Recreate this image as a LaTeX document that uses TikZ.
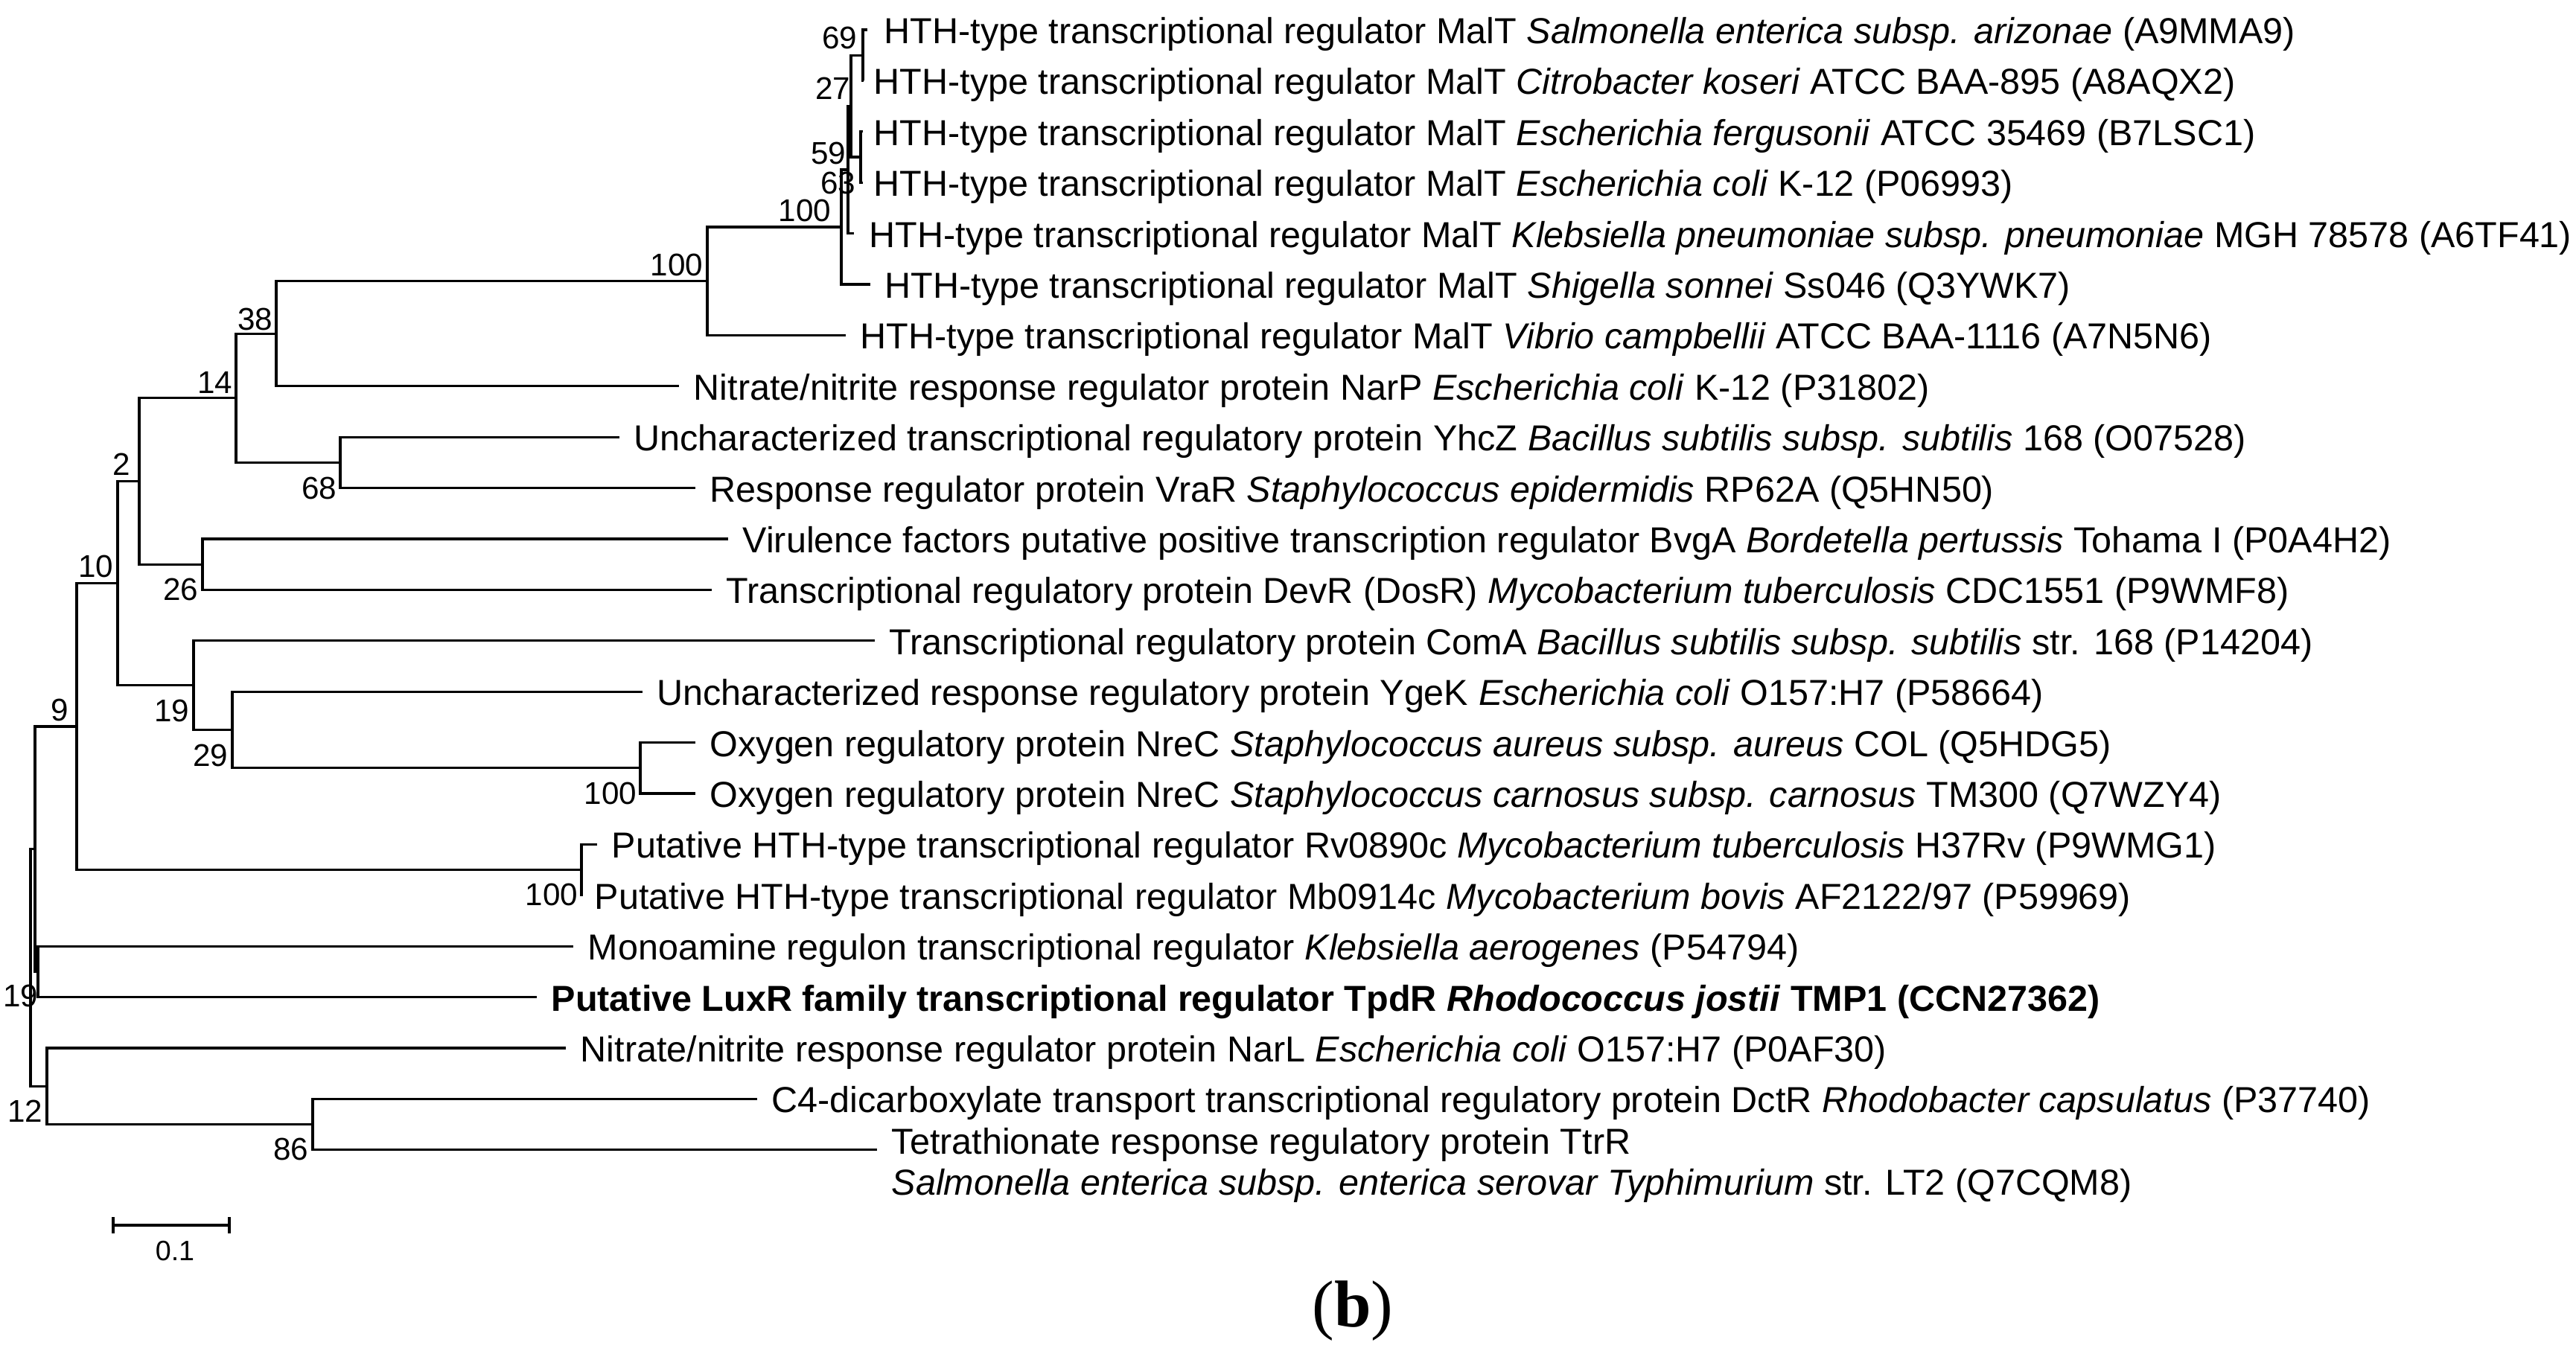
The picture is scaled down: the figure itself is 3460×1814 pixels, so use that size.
\documentclass[tikz,border=0pt]{standalone}
\usepackage{fontspec}
\setmainfont{Liberation Sans}
\newfontfamily\capfont{Liberation Serif}
\begin{document}
\begin{tikzpicture}[x=0.01cm,y=-0.01cm,
  branch/.style={line width=0.95pt, line join=miter},
  leaf/.style={anchor=base west, inner sep=0pt, font=\fontsize{13.8}{16}\selectfont},
  boot/.style={anchor=base east, inner sep=0pt, font=\fontsize{12}{14}\selectfont},
]
\useasboundingbox (0,0) rectangle (3460,1814);
% leaf tips
\coordinate (r1) at (1165,40);
\coordinate (r2) at (1160,108.4);
\coordinate (r3) at (1159,176.8);
\coordinate (r4) at (1159,245.2);
\coordinate (r5) at (1147,313.6);
\coordinate (r6) at (1169,382);
\coordinate (r7) at (1136,450.4);
\coordinate (r8) at (912,518.8);
\coordinate (r9) at (832,587.2);
\coordinate (r10) at (934,655.6);
\coordinate (r11) at (978,724);
\coordinate (r12) at (956,792.4);
\coordinate (r13) at (1175,860.8);
\coordinate (r14) at (863,929.2);
\coordinate (r15) at (934,997.6);
\coordinate (r16) at (934,1066);
\coordinate (r17) at (802,1134.4);
\coordinate (r18) at (783,1202.8);
\coordinate (r19) at (770,1271.2);
\coordinate (r20) at (721,1339.6);
\coordinate (r21) at (760,1408);
\coordinate (r22) at (1017,1476.4);
\coordinate (r23) at (1178,1544.8);
% internal nodes
\coordinate (n69) at (1159,74.2);
\coordinate (n59) at (1156,211);
\coordinate (n27) at (1143,142.6);
\coordinate (n63) at (1139,228.1);
\coordinate (n100a) at (1130,305);
\coordinate (nMV) at (950,377.7);
\coordinate (n38) at (371,448.3);
\coordinate (n68) at (457,621.4);
\coordinate (n14) at (317,534.8);
\coordinate (n26) at (272,758.2);
\coordinate (n2) at (187,646.5);
\coordinate (nNC) at (860,1031.8);
\coordinate (n29) at (312,980.5);
\coordinate (n19a) at (260,920.7);
\coordinate (n10) at (158,783.6);
\coordinate (nPut) at (781,1168.6);
\coordinate (n9) at (103,976.1);
\coordinate (n19b) at (51,1305.4);
\coordinate (nX) at (47,1140.8);
\coordinate (n86) at (420,1510.6);
\coordinate (n12) at (63,1459.3);
\coordinate (root) at (41,1300);
% branches
\draw[branch] (r1) -| (n69) |- (r2);
\draw[branch] (r3) -| (n59) |- (r4);
\draw[branch] (n69) -| (n27) |- (n59);
\draw[branch] (n27) -| (n63) |- (r5);
\draw[branch] (n63) -| (n100a) |- (r6);
\draw[branch] (n100a) -| (nMV) |- (r7);
\draw[branch] (nMV) -| (n38) |- (r8);
\draw[branch] (r9) -| (n68) |- (r10);
\draw[branch] (n38) -| (n14) |- (n68);
\draw[branch] (r11) -| (n26) |- (r12);
\draw[branch] (n14) -| (n2) |- (n26);
\draw[branch] (r15) -| (nNC) |- (r16);
\draw[branch] (r14) -| (n29) |- (nNC);
\draw[branch] (r13) -| (n19a) |- (n29);
\draw[branch] (n2) -| (n10) |- (n19a);
\draw[branch] (r17) -| (nPut) |- (r18);
\draw[branch] (n10) -| (n9) |- (nPut);
\draw[branch] (r19) -| (n19b) |- (r20);
\draw[branch] (n9) -| (nX) |- (n19b);
\draw[branch] (r22) -| (n86) |- (r23);
\draw[branch] (r21) -| (n12) |- (n86);
\draw[branch] (nX) -| (root) |- (n12);
% bootstrap values
\node[boot] (b69) at (1152,65) {69};
\node[boot] (b27) at (1143,133) {27};
\node[boot] (b59) at (1137,220) {59};
\node[boot] (b63) at (1150,260) {63};
\node[boot] (b100a) at (1117,297) {100};
\node[boot] (bMV) at (945,370) {100};
\node[boot] (b38) at (367,443) {38};
\node[boot] (b14) at (313,528) {14};
\node[boot] (b68) at (453,670) {68};
\node[boot] (b2) at (176,638) {2};
\node[boot] (b26) at (267,806) {26};
\node[boot] (b10) at (153,775) {10};
\node[boot] (b19a) at (255,969) {19};
\node[boot] (b29) at (307,1029) {29};
\node[boot] (b9) at (93,968) {9};
\node[boot] (bNC) at (856,1080) {100};
\node[boot] (bPut) at (777,1216) {100};
\node[boot] (b19b) at (52,1352) {19};
\node[boot] (b12) at (58,1507) {12};
\node[boot] (b86) at (415,1558) {86};
% leaf labels
\node[leaf] (l1) at (1187,58.5) {HTH-type transcriptional regulator MalT \textit{Salmonella enterica subsp. arizonae} (A9MMA9)};
\node[leaf] (l2) at (1173,126.9) {HTH-type transcriptional regulator MalT \textit{Citrobacter koseri} ATCC BAA-895 (A8AQX2)};
\node[leaf] (l3) at (1173,195.3) {HTH-type transcriptional regulator MalT \textit{Escherichia fergusonii} ATCC 35469 (B7LSC1)};
\node[leaf] (l4) at (1173,263.7) {HTH-type transcriptional regulator MalT \textit{Escherichia coli} K-12 (P06993)};
\node[leaf] (l5) at (1167,332.1) {HTH-type transcriptional regulator MalT \textit{Klebsiella pneumoniae subsp. pneumoniae} MGH 78578 (A6TF41)};
\node[leaf] (l6) at (1188,400.5) {HTH-type transcriptional regulator MalT \textit{Shigella sonnei} Ss046 (Q3YWK7)};
\node[leaf] (l7) at (1155,468.9) {HTH-type transcriptional regulator MalT \textit{Vibrio campbellii} ATCC BAA-1116 (A7N5N6)};
\node[leaf] (l8) at (931,537.3) {Nitrate/nitrite response regulator protein NarP \textit{Escherichia coli} K-12 (P31802)};
\node[leaf] (l9) at (851,605.7) {Uncharacterized transcriptional regulatory protein YhcZ \textit{Bacillus subtilis subsp. subtilis} 168 (O07528)};
\node[leaf] (l10) at (953,674.1) {Response regulator protein VraR \textit{Staphylococcus epidermidis} RP62A (Q5HN50)};
\node[leaf] (l11) at (997,742.5) {Virulence factors putative positive transcription regulator BvgA \textit{Bordetella pertussis} Tohama I (P0A4H2)};
\node[leaf] (l12) at (975,810.9) {Transcriptional regulatory protein DevR (DosR) \textit{Mycobacterium tuberculosis} CDC1551 (P9WMF8)};
\node[leaf] (l13) at (1194,879.3) {Transcriptional regulatory protein ComA \textit{Bacillus subtilis subsp. subtilis} str. 168 (P14204)};
\node[leaf] (l14) at (882,947.7) {Uncharacterized response regulatory protein YgeK \textit{Escherichia coli} O157:H7 (P58664)};
\node[leaf] (l15) at (953,1016.1) {Oxygen regulatory protein NreC \textit{Staphylococcus aureus subsp. aureus} COL (Q5HDG5)};
\node[leaf] (l16) at (953,1084.5) {Oxygen regulatory protein NreC \textit{Staphylococcus carnosus subsp. carnosus} TM300 (Q7WZY4)};
\node[leaf] (l17) at (821,1152.9) {Putative HTH-type transcriptional regulator Rv0890c \textit{Mycobacterium tuberculosis} H37Rv (P9WMG1)};
\node[leaf] (l18) at (798,1221.3) {Putative HTH-type transcriptional regulator Mb0914c \textit{Mycobacterium bovis} AF2122/97 (P59969)};
\node[leaf] (l19) at (789,1289.7) {Monoamine regulon transcriptional regulator \textit{Klebsiella aerogenes} (P54794)};
\node[leaf] (l20) at (740,1358.1) {\bfseries Putative LuxR family transcriptional regulator TpdR \textit{Rhodococcus jostii} TMP1 (CCN27362)};
\node[leaf] (l21) at (779,1426.5) {Nitrate/nitrite response regulator protein NarL \textit{Escherichia coli} O157:H7 (P0AF30)};
\node[leaf] (l22) at (1036,1494.9) {C4-dicarboxylate transport transcriptional regulatory protein DctR \textit{Rhodobacter capsulatus} (P37740)};
\node[leaf] (l23a) at (1197,1550) {Tetrathionate response regulatory protein TtrR};
\node[leaf] (l23b) at (1197,1605) {\textit{Salmonella enterica subsp. enterica serovar Typhimurium} str. LT2 (Q7CQM8)};
% scale bar
\coordinate (sbL) at (152,1646);
\coordinate (sbR) at (308,1646);
\draw[line width=1.15pt] (sbL) -- (sbR);
\draw[line width=1.15pt] (sbL) ++(0,-11) -- ++(0,22);
\draw[line width=1.15pt] (sbR) ++(0,-11) -- ++(0,22);
\node[anchor=base, inner sep=0pt, font=\fontsize{10.7}{12}\selectfont] (sblab) at (235,1693) {0.1};
% panel label
\node[anchor=base, inner sep=0pt, font=\capfont\fontsize{25.3}{30}\selectfont] (cap) at (1817,1782) {(\textbf{b})};
\end{tikzpicture}
\end{document}
